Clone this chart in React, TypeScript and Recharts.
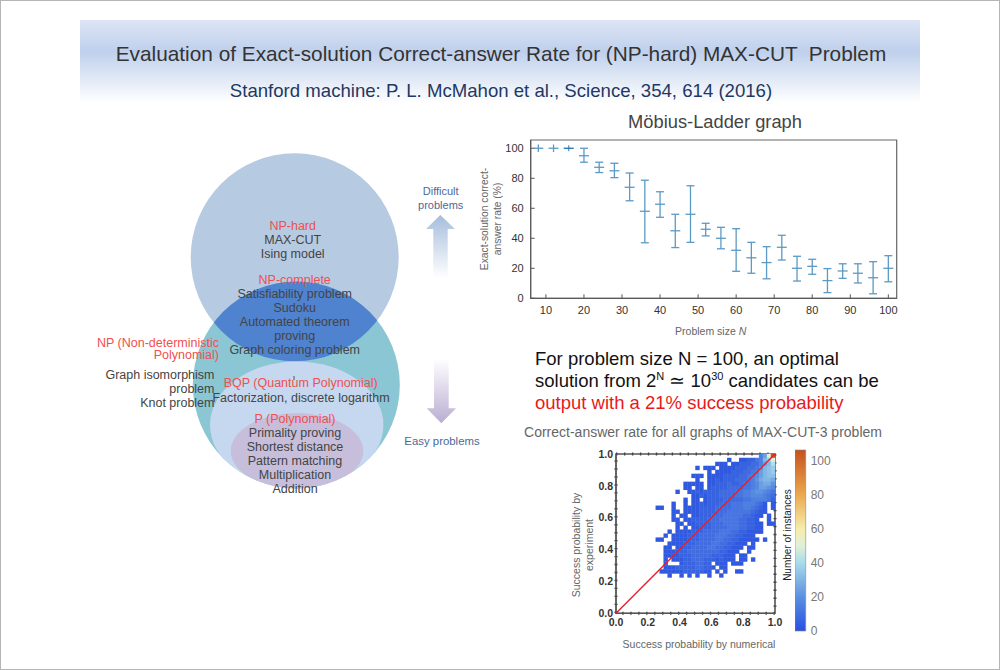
import {
  ScatterChart,
  Scatter,
  XAxis,
  YAxis,
  ErrorBar,
  ReferenceArea,
} from "recharts";

const FONT = "'Liberation Sans', Arial, sans-serif";

/* Mobius-Ladder graph: problem size, correct-answer rate, error bar ends */
const sizes = [8, 12, 16, 20, 24, 28, 32, 36, 40, 44, 48, 52, 56, 60, 64, 68, 72, 76, 80, 84, 88, 92, 96, 100];
const rates = [100, 100, 100, 95, 87.3, 85, 74, 58, 62.7, 45, 56, 46, 40, 32, 27, 23.8, 34, 20, 21.3, 11.8, 18.2, 16.7, 13.7, 20];
const lows = [97.5, 97.5, 98, 90.7, 83.8, 80.4, 65, 37, 54, 33.8, 37.3, 41.6, 33, 18, 16.7, 13, 25.5, 11.5, 16, 3.8, 13.3, 10.2, 3, 11];
const highs = [102.5, 102.5, 102, 100, 90.7, 90, 83.5, 78.7, 71, 56, 75, 50, 47.3, 46.4, 37.3, 34.4, 42, 28, 26, 19.8, 23, 23, 24.4, 28.4];
const rateXTicks = [10, 20, 30, 40, 50, 60, 70, 80, 90, 100];
const rateYTicks = [0, 20, 40, 60, 80, 100];

/* MAX-CUT-3 histogram, row 0 is the top of the plot, one character per cell:
   "." empty, otherwise base-36 digit, count = digit * 3 */
const heatRows = [
  "....................................58hz",
  "............................1..112245ach",
  ".........................111.112223358ae",
  "....................1.111.11112223346abc",
  ".......................1.111122233458abc",
  "...................111.11112222334568abb",
  "....................1..11212223334579aa9",
  ".................11111.11222322344568997",
  ".................11.11.12222333344568876",
  "...............1..1121222233334455677654",
  "...................112122233334455666543",
  ".................1.11.122223333344555542",
  "..............1..1.1121222333444555431.1",
  "..........11..1..111122223333444554321.1",
  "..............11.111122223334444443211..",
  "..............1.11.112223334444433211.1.",
  "..............11.1122223334444433221..1.",
  "...............11.1122223334444332211.11",
  "...............1.1.112223333444332211...",
  ".............1.1111222333344433221111...",
  "............1.111122233334443322111.....",
  "..........11..1111222333344332211111.1..",
  ".............11112223333443322111.1.....",
  "............11.11223333443322111.11.....",
  "............1112223333333322111..1......",
  "............111122233333222111.11.......",
  "............1.1112233322212111.11.1.....",
  "............1...12223322.111.111........",
  "............1112222233221.11............",
  "...........1111112222211.1.1..11........",
  ".............1..1.1.1..1..1.............",
];
const heatTicks = [0, 0.2, 0.4, 0.6, 0.8, 1];
const diagonal = [
  { x: 0, y: 0 },
  { x: 1, y: 1 },
];
const colorBarTicks = [0, 20, 40, 60, 80, 100];

const rateRows = sizes.map((size, i) => ({
  size,
  rate: rates[i],
  err: [rates[i] - lows[i], highs[i] - rates[i]],
}));
const plainRows = rateRows.slice(0, 3);
const cappedRows = rateRows.slice(3);

const heatCells = heatRows.flatMap((row, r) =>
  row.split("").flatMap((ch, c) =>
    ch === "." ? [] : [{ x: (c + 0.5) / 40, y: 1 - (r + 0.5) / 40, count: parseInt(ch, 36) * 3 }]
  )
);

/* colour scale of the colour bar */
const scaleStops: [number, string][] = [
  [0, "#2a4fe0"],
  [20, "#5a90e0"],
  [40, "#a9dbea"],
  [50, "#dff0d8"],
  [60, "#f6edaa"],
  [80, "#eba94e"],
  [106, "#c6521e"],
];

function heatColor(v: number) {
  for (let i = 1; i < scaleStops.length; i++) {
    const [v0, c0] = scaleStops[i - 1];
    const [v1, c1] = scaleStops[i];
    if (v <= v1) {
      const t = (v - v0) / (v1 - v0);
      const ch = (k: number) => {
        const a = parseInt(c0.slice(k, k + 2), 16);
        const b = parseInt(c1.slice(k, k + 2), 16);
        return Math.round(a + (b - a) * t);
      };
      return `rgb(${ch(1)},${ch(3)},${ch(5)})`;
    }
  }
  return scaleStops[scaleStops.length - 1][1];
}

function CentreTick(props: any) {
  const color = props.payload?.size === 16 || props.size === 16 ? "#1f6fb0" : "#5b9ac4";
  return <line x1={props.cx - 5} x2={props.cx + 5} y1={props.cy} y2={props.cy} stroke={color} strokeWidth={1.3} />;
}

function HeatCell(props: any) {
  const count = props.payload?.count ?? props.count;
  return <rect x={props.cx - 2.2} y={props.cy - 2.2} width={4.4} height={4.4} fill={heatColor(count)} />;
}

function Lines({ x, y, step = 14, lines, color = "#444", size = 12.5, anchor = "middle" }: any) {
  return (
    <text x={x} y={y} fontSize={size} fill={color} textAnchor={anchor} fontFamily={FONT}>
      {lines.map((line: string, i: number) => (
        <tspan key={i} x={x} y={y + i * step}>
          {line}
        </tspan>
      ))}
    </text>
  );
}

function Slide() {
  return (
    <svg width={1000} height={670} style={{ position: "absolute", left: 0, top: 0 }}>
      <defs>
        <linearGradient id="band" x1="0" y1="0" x2="0" y2="1">
          <stop offset="0%" stopColor="#dde5f5" />
          <stop offset="38%" stopColor="#bfd0ec" />
          <stop offset="100%" stopColor="#ffffff" />
        </linearGradient>
        <linearGradient id="upArrow" x1="0" y1="0" x2="0" y2="1">
          <stop offset="0%" stopColor="#a5bddc" />
          <stop offset="100%" stopColor="#ffffff" />
        </linearGradient>
        <linearGradient id="downArrow" x1="0" y1="0" x2="0" y2="1">
          <stop offset="0%" stopColor="#ffffff" />
          <stop offset="100%" stopColor="#b9add2" />
        </linearGradient>
        <clipPath id="topCircle">
          <circle cx={294.7} cy={257.3} r={104} />
        </clipPath>
        <clipPath id="npCircle">
          <circle cx={296.3} cy={385} r={103.5} />
        </clipPath>
      </defs>

      <rect x={0.5} y={0.5} width={999} height={669} fill="#fff" stroke="#b5b5b5" />
      <rect x={80} y={20} width={840} height={83} fill="url(#band)" />
      <text x={501} y={61} fontSize={20.8} fill="#333" textAnchor="middle" fontFamily={FONT} style={{ whiteSpace: "pre" }}>
        {"Evaluation of Exact-solution Correct-answer Rate for (NP-hard) MAX-CUT  Problem"}
      </text>
      <text x={501} y={97} fontSize={18.6} fill="#1f3864" textAnchor="middle" fontFamily={FONT}>
        Stanford machine: P. L. McMahon et al., Science, 354, 614 (2016)
      </text>

      {/* Venn diagram */}
      <circle cx={294.7} cy={257.3} r={104} fill="#b6cae2" />
      <circle cx={296.3} cy={385} r={103.5} fill="#8ac6d4" />
      <circle cx={296.3} cy={385} r={103.5} fill="#4f82cf" clipPath="url(#topCircle)" />
      <g clipPath="url(#npCircle)">
        <ellipse cx={296.7} cy={425} rx={86.7} ry={63.5} fill="#c5d8ef" />
        <ellipse cx={297} cy={451} rx={66.3} ry={38} fill="#c6bedb" />
      </g>
      <line x1={294} x2={294} y1={376} y2={380} stroke="#555" />

      <Lines x={292.7} y={230} lines={["NP-hard"]} color="#f05050" />
      <Lines x={292.7} y={244} lines={["MAX-CUT", "Ising model"]} />
      <Lines x={294.7} y={284} lines={["NP-complete"]} color="#f05050" />
      <Lines
        x={294.7}
        y={298}
        lines={["Satisfiability problem", "Sudoku", "Automated theorem", "proving", "Graph coloring problem"]}
      />
      <Lines x={219} y={347} step={12} anchor="end" lines={["NP (Non-deterministic", "Polynomial)"]} color="#f05050" />
      <Lines x={214.5} y={379} anchor="end" lines={["Graph isomorphism", "problem", "Knot problem"]} />
      <Lines x={300.7} y={387} lines={["BQP (Quantum Polynomial)"]} color="#f05050" />
      <Lines x={301} y={401.5} lines={["Factorization, discrete logarithm"]} />
      <Lines x={295} y={423} lines={["P (Polynomial)"]} color="#f05050" />
      <Lines
        x={295}
        y={437}
        lines={["Primality proving", "Shortest distance", "Pattern matching", "Multiplication", "Addition"]}
      />

      {/* arrows */}
      <polygon points="440.3,215 455,229 447.7,229 447.7,278 433.3,278 433.3,229 426,229" fill="url(#upArrow)" />
      <polygon points="434,358.7 448.7,358.7 448.7,408.3 456,408.3 441.3,423.3 426.7,408.3 434,408.3" fill="url(#downArrow)" />
      <Lines x={440.7} y={195} lines={["Difficult", "problems"]} size={11} color="#4a6a9a" />
      <Lines x={442} y={445} lines={["Easy problems"]} size={11.4} color="#4a6a9a" />

      {/* right side texts */}
      <text x={715} y={128} fontSize={18.3} fill="#444" textAnchor="middle" fontFamily={FONT}>
        Möbius-Ladder graph
      </text>
      <text transform="translate(488,219) rotate(-90)" fontSize={10.3} fill="#666" textAnchor="middle" fontFamily={FONT}>
        Exact-solution correct-
      </text>
      <text transform="translate(501,219) rotate(-90)" fontSize={10.3} fill="#666" textAnchor="middle" fontFamily={FONT}>
        answer rate (%)
      </text>
      <text x={710.7} y={335} fontSize={10.5} fill="#666" textAnchor="middle" fontFamily={FONT}>
        Problem size <tspan fontStyle="italic">N</tspan>
      </text>

      <text x={535} y={365} fontSize={18.5} fill="#111" fontFamily={FONT}>
        For problem size N = 100, an optimal
      </text>
      <text x={535} y={387} fontSize={18.5} fill="#111" fontFamily={FONT}>
        solution from 2<tspan fontSize={11} dy={-7}>N</tspan>
        <tspan dy={7}> ≃ 10</tspan>
        <tspan fontSize={11} dy={-7}>30</tspan>
        <tspan dy={7}> candidates can be</tspan>
      </text>
      <text x={535} y={409} fontSize={18.5} fill="#e81a1a" fontFamily={FONT}>
        output with a 21% success probability
      </text>
      <text x={703} y={437} fontSize={14} fill="#666" textAnchor="middle" fontFamily={FONT}>
        Correct-answer rate for all graphs of MAX-CUT-3 problem
      </text>

      <text transform="translate(580,545) rotate(-90)" fontSize={10.5} fill="#666" textAnchor="middle" fontFamily={FONT}>
        Success probability by
      </text>
      <text transform="translate(593,545) rotate(-90)" fontSize={10.5} fill="#666" textAnchor="middle" fontFamily={FONT}>
        experiment
      </text>
      <text x={699} y={648} fontSize={10.5} fill="#666" textAnchor="middle" fontFamily={FONT}>
        Success probability by numerical
      </text>
      <text transform="translate(791,535) rotate(-90)" fontSize={10} fill="#222" textAnchor="middle" fontFamily={FONT}>
        Number of instances
      </text>
    </svg>
  );
}

function RateChart() {
  return (
    <div style={{ position: "absolute", left: 500, top: 130 }}>
      <ScatterChart width={400} height={188.3} margin={{ top: 10, right: 3.3, bottom: 0, left: 0 }}>
        <XAxis
          type="number"
          dataKey="size"
          domain={[6, 102.2]}
          ticks={rateXTicks}
          height={20}
          stroke="#555"
          tickSize={-4}
          tickMargin={12}
          tick={{ fontSize: 11, fill: "#333", fontFamily: FONT }}
        />
        <YAxis
          type="number"
          dataKey="rate"
          domain={[0, 105.5]}
          ticks={rateYTicks}
          width={30.7}
          stroke="#555"
          tickSize={-4}
          tickMargin={11}
          tick={{ fontSize: 11, fill: "#333", fontFamily: FONT }}
        />
        <ReferenceArea x1={6} x2={102.2} y1={0} y2={105.5} fill="none" stroke="#666" strokeWidth={1.2} />
        <Scatter data={plainRows} shape={CentreTick} isAnimationActive={false}>
          <ErrorBar dataKey="err" direction="y" width={0} stroke="#5b9ac4" strokeWidth={1.3} isAnimationActive={false} />
        </Scatter>
        <Scatter data={cappedRows} shape={CentreTick} isAnimationActive={false}>
          <ErrorBar dataKey="err" direction="y" width={4} stroke="#5b9ac4" strokeWidth={1.3} isAnimationActive={false} />
        </Scatter>
      </ScatterChart>
    </div>
  );
}

function HeatChart() {
  const tickStyle = { fontSize: 10.5, fontWeight: 700, fill: "#333", fontFamily: FONT };
  return (
    <div style={{ position: "absolute", left: 580, top: 444 }}>
      <ScatterChart width={205} height={189.3} margin={{ top: 10, right: 10, bottom: 0, left: 0 }}>
        <XAxis
          type="number"
          dataKey="x"
          domain={[0, 1]}
          ticks={heatTicks}
          tickFormatter={(v: number) => v.toFixed(1)}
          height={20}
          stroke="#555"
          tickSize={0}
          tickMargin={5}
          tick={tickStyle}
        />
        <YAxis
          type="number"
          dataKey="y"
          domain={[0, 1]}
          ticks={heatTicks}
          tickFormatter={(v: number) => v.toFixed(1)}
          width={36}
          stroke="#555"
          tickSize={0}
          tickMargin={3}
          tick={tickStyle}
        />
        <ReferenceArea x1={0} x2={1} y1={0} y2={1} fill="none" stroke="#555" strokeWidth={1.6} />
        <ReferenceArea x1={0} x2={1} y1={0} y2={1} fill="none" stroke="#444" strokeWidth={3} strokeDasharray="1.4 6.56" />
        <Scatter data={heatCells} shape={HeatCell} isAnimationActive={false} />
        <Scatter data={diagonal} line={{ stroke: "#e3202c", strokeWidth: 1.4 }} shape={() => null} isAnimationActive={false} />
      </ScatterChart>
    </div>
  );
}

function ColorBar() {
  const rows = colorBarTicks.map((y) => ({ x: 0.5, y }));
  return (
    <div style={{ position: "absolute", left: 795, top: 440 }}>
      <ScatterChart width={50} height={200} margin={{ top: 10, right: 0, bottom: 9, left: 0 }}>
        <defs>
          <linearGradient id="scale" x1="0" y1="1" x2="0" y2="0">
            {scaleStops.map(([v, c]) => (
              <stop key={v} offset={`${(v / 106.3) * 100}%`} stopColor={c} />
            ))}
          </linearGradient>
        </defs>
        <XAxis type="number" dataKey="x" domain={[0, 1]} hide />
        <YAxis
          type="number"
          dataKey="y"
          orientation="right"
          domain={[0, 106.3]}
          ticks={colorBarTicks}
          width={39.3}
          axisLine={false}
          tickLine={false}
          tickSize={0}
          tickMargin={5}
          tick={{ fontSize: 12, fill: "#777", fontFamily: FONT }}
        />
        <ReferenceArea x1={0} x2={1} y1={0} y2={106.3} fill="url(#scale)" fillOpacity={1} stroke="#888" strokeWidth={0.6} />
        <Scatter data={rows} shape={() => null} isAnimationActive={false} />
      </ScatterChart>
    </div>
  );
}

export default function App() {
  return (
    <div style={{ position: "absolute", left: 0, top: 0, width: 1000, height: 670, background: "#fff" }}>
      <Slide />
      <RateChart />
      <HeatChart />
      <ColorBar />
    </div>
  );
}
